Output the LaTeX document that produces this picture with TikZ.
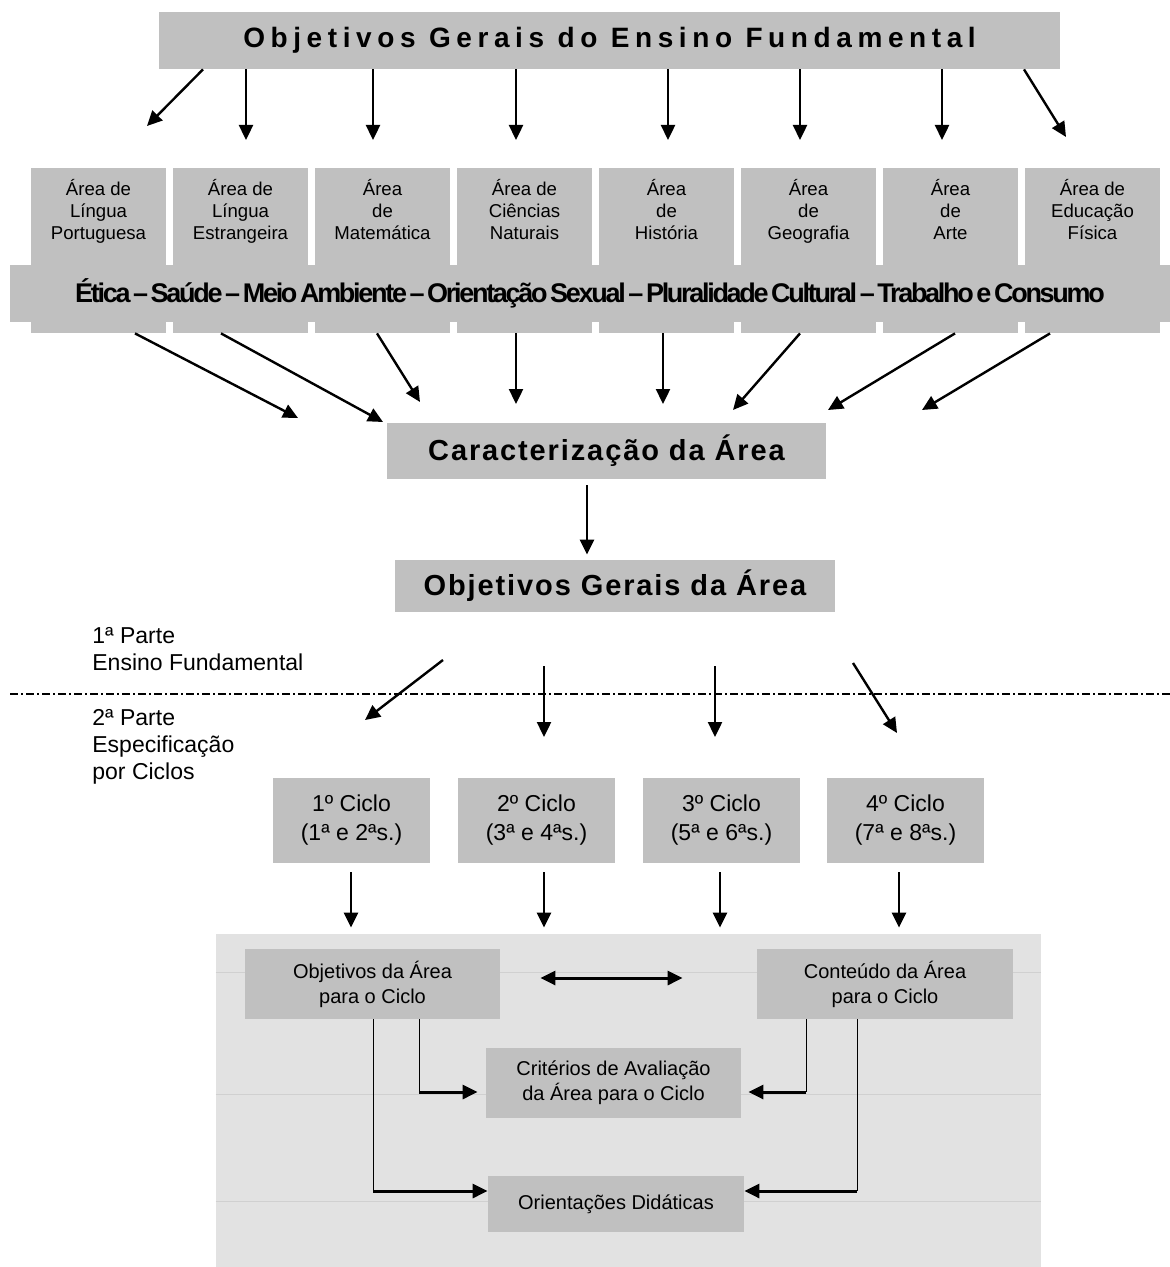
\documentclass[tikz,border=0pt]{standalone}
\usepackage{fontspec}
\setmainfont{Liberation Sans}
\newfontfamily\widefont[LetterSpace=20]{Liberation Sans}
\newfontfamily\midfont[LetterSpace=6.5]{Liberation Sans}
\newfontfamily\tightfont[LetterSpace=-8.5,WordSpace=0.5]{Liberation Sans}
\usetikzlibrary{arrows.meta}
\definecolor{boxgray}{HTML}{C0C0C0}
\definecolor{panelgray}{HTML}{E2E2E2}
\definecolor{faintgray}{HTML}{D0D0D0}

\begin{document}
\begin{tikzpicture}[x=0.5pt,y=-0.5pt,
    box/.style={fill=boxgray,inner sep=0pt},
    areatxt/.style={align=center,inner sep=0pt,font=\fontsize{9.3pt}{11pt}\selectfont},
    cyc/.style={align=center,font=\fontsize{11.5pt}{14.5pt}\selectfont},
    low/.style={align=center,font=\fontsize{10pt}{12.5pt}\selectfont},
    part/.style={align=left,inner sep=0pt,font=\fontsize{11.5pt}{13.5pt}\selectfont},
    arr/.style={line width=1.2pt,-{Triangle[length=7.5pt,width=7pt]}},
    dbl/.style={line width=1.5pt,{Triangle[length=7.5pt,width=7pt]}-{Triangle[length=7.5pt,width=7pt]}},
    thinline/.style={line width=0.5pt},
    faint/.style={faintgray,line width=0.5pt},
    sep/.style={line width=1.1pt,dash pattern=on 4pt off 1.5pt on 1pt off 1.5pt}]
\useasboundingbox (0,0) rectangle (1170,1267);

% top title
\node[box,minimum width=450.5pt,minimum height=28.5pt,
      font={\widefont\bfseries\fontsize{14pt}{17pt}\selectfont}] (top) at (609.5,40.5)
      {Objetivos Gerais do Ensino Fundamental};

% area boxes
\foreach \i/\txt in {1/{Área de\\Língua\\Portuguesa}, 2/{Área de\\Língua\\Estrangeira},
    3/{Área\\de\\Matemática}, 4/{Área de\\Ciências\\Naturais}, 5/{Área\\de\\História},
    6/{Área\\de\\Geografia}, 7/{Área\\de\\Arte}, 8/{Área de\\Educação\\Física}} {
  \node[box,minimum width=67.5pt,minimum height=82.5pt] (a\i) at ({98.5+142*(\i-1)},250.5) {};
  \node[areatxt,anchor=north] (at\i) at ({98.5+142*(\i-1)},179) {\txt};
}

% transversal themes
\node[box,minimum width=580pt,minimum height=28.5pt,
      font={\tightfont\bfseries\fontsize{13.5pt}{16pt}\selectfont}] (band) at (590,293.5)
      {Ética – Saúde – Meio Ambiente – Orientação Sexual – Pluralidade Cultural – Trabalho e Consumo};

% arrows from the top
\foreach \n/\sx/\ex/\ey in {1/203/147/126, 2/246/246/140, 3/373/373/140, 4/516/516/140,
    5/668/668/140, 6/800/800/140, 7/942/942/140, 8/1024/1066/137} {
  \coordinate (t\n) at (\ex,\ey);
  \draw[arr] (top.south -| \sx,0) -- (t\n);
}

% arrows to caracterizacao
\foreach \n/\sx/\ex/\ey in {1/135/298/418, 2/221/383/422, 3/377/420/402, 4/516/516/404,
    5/663/663/404, 6/800/733/410, 7/955/828/410, 8/1050/922/410} {
  \coordinate (b\n) at (\ex,\ey);
  \draw[arr] (a\n.south -| \sx,0) -- (b\n);
}

\node[box,minimum width=219.5pt,minimum height=28pt,
      font={\midfont\bfseries\fontsize{14.5pt}{17pt}\selectfont}] (carac) at (606.5,451)
      {Caracterização da Área};
\node[box,minimum width=220pt,minimum height=26pt,
      font={\midfont\bfseries\fontsize{14.5pt}{17pt}\selectfont}] (obj) at (615,586)
      {Objetivos Gerais da Área};
\draw[arr,shorten <=3pt,shorten >=2.5pt] (carac.south -| 587,0) -- (obj.north -| 587,0);

% parts
\node[part,anchor=north west] (p1) at (92,627) {1ª Parte\\Ensino Fundamental};
\draw[sep] (10,694) -- (1170,694);
\node[part,anchor=north west] (p2) at (92,709) {2ª Parte\\Especificação\\por Ciclos};

\foreach \n/\sx/\sy/\ex/\ey in {1/443/660/365/720, 2/544/666/544/737, 3/715/666/715/737, 4/853/663/897/733} {
  \coordinate (s\n) at (\sx,\sy);
  \coordinate (e\n) at (\ex,\ey);
  \draw[arr] (s\n) -- (e\n);
}

% cycles
\foreach \i/\x/\txt in {1/351.5/{1º Ciclo\\(1ª e 2ªs.)}, 2/536.5/{2º Ciclo\\(3ª e 4ªs.)},
    3/721.5/{3º Ciclo\\(5ª e 6ªs.)}, 4/905.5/{4º Ciclo\\(7ª e 8ªs.)}}
  \node[box,cyc,minimum width=78.5pt,minimum height=42.5pt] (c\i) at (\x,820.5) {\txt};

% lower panel
\node[fill=panelgray,inner sep=0pt,minimum width=412.5pt,minimum height=166.5pt] (panel) at (628.5,1100.5) {};
\foreach \n/\x in {1/351,2/544,3/720,4/899}
  \draw[arr,shorten <=4.5pt,shorten >=3pt] (c\n.south -| \x,0) -- (panel.north -| \x,0);
\foreach \y in {972,1094,1201}
  \draw[faint] (panel.west |- 0,\y) -- (panel.east |- 0,\y);

\node[box,low,minimum width=127.5pt,minimum height=35pt] (objc) at (372.5,984) {Objetivos da Área\\para o Ciclo};
\node[box,low,minimum width=128pt,minimum height=35pt] (cont) at (885,984) {Conteúdo da Área\\para o Ciclo};
\node[box,low,minimum width=127.5pt,minimum height=35pt] (crit) at (613.5,1083) {Critérios de Avaliação\\da Área para o Ciclo};
\node[box,low,minimum width=128pt,minimum height=28pt] (orie) at (616,1204) {Orientações Didáticas};

\draw[dbl,shorten <=20pt,shorten >=37pt] ([yshift=3pt]objc.east) -- ([yshift=3pt]cont.west);

\coordinate (k1) at (419,1092);
\coordinate (k2) at (373,1191);
\coordinate (k3) at (806,1092);
\coordinate (k4) at (857,1191);
\draw[thinline] (objc.south -| k1) -- (k1);
\draw[arr,line width=1.5pt,shorten >=4pt] (k1) -- (crit.west |- k1);
\draw[thinline] (objc.south -| k2) -- (k2);
\draw[arr,line width=1.5pt] (k2) -- (orie.west |- k2);
\draw[thinline] (cont.south -| k3) -- (k3);
\draw[arr,line width=1.5pt,shorten >=3.5pt] (k3) -- (crit.east |- k3);
\draw[thinline] (cont.south -| k4) -- (k4);
\draw[arr,line width=1.5pt] (k4) -- (orie.east |- k4);
\end{tikzpicture}
\end{document}
